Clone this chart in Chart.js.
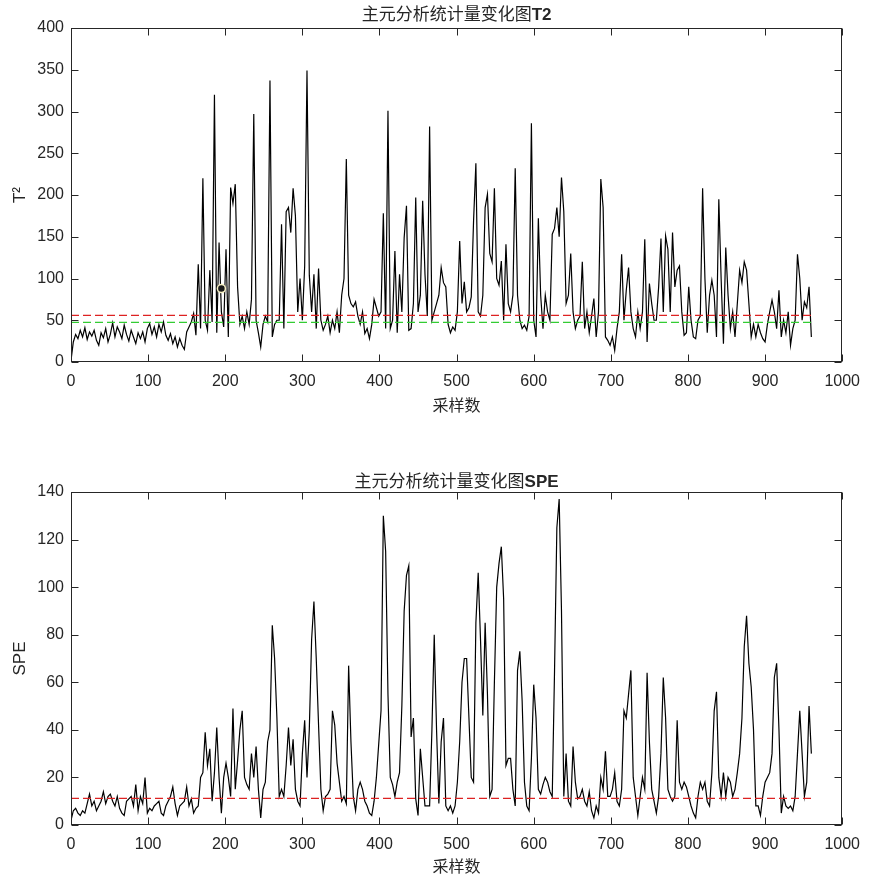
<!DOCTYPE html>
<html>
<head>
<meta charset="utf-8">
<script src="https://cdn.jsdelivr.net/npm/chart.js@4.4.1/dist/chart.umd.min.js"></script>
<style>
  html, body { margin: 0; padding: 0; background: #fff; }
  #wrap { position: relative; width: 870px; height: 880px; }
  .box { position: absolute; left: 0; width: 870px; height: 440px; }
</style>
</head>
<body>
<div id="wrap">
  <div class="box" style="top:0"><canvas id="t2Chart"></canvas></div>
  <div class="box" style="top:440px"><canvas id="speChart"></canvas></div>
</div>
<script>
// 采样间隔（每3个采样读一个值）
const SAMPLE_STEP = 3;

// T2 统计量
const t2Values = [
  2, 24, 33, 28, 38, 30, 41, 27, 36, 31,
  38, 26, 20, 35, 29, 40, 24, 33, 47, 30,
  42, 36, 28, 44, 33, 25, 38, 30, 22, 35,
  28, 36, 24, 40, 46, 33, 42, 30, 45, 36,
  48, 32, 26, 34, 22, 30, 18, 28, 20, 15,
  36, 42, 48, 58, 32, 117, 40, 220, 50, 38,
  110, 48, 320, 35, 143, 60, 42, 135, 30, 209,
  190, 213, 90, 45, 55, 40, 60, 45, 75, 297,
  50, 35, 18, 45, 55, 48, 337, 30, 45, 50,
  50, 165, 40, 180, 185, 155, 208, 175, 60, 100,
  50, 115, 349, 104, 60, 105, 40, 112, 50, 38,
  45, 55, 35, 50, 40, 60, 35, 80, 100, 243,
  80, 70, 66, 72, 55, 45, 60, 34, 40, 28,
  45, 75, 65, 55, 60, 178, 40, 301, 40, 50,
  133, 35, 105, 60, 149, 187, 38, 40, 70, 197,
  60, 80, 193, 105, 55, 282, 50, 60, 70, 80,
  113, 95, 90, 45, 35, 42, 38, 60, 145, 70,
  96, 60, 65, 78, 169, 238, 60, 55, 80, 185,
  201, 130, 120, 208, 100, 92, 121, 50, 141, 70,
  60, 80, 232, 80, 50, 40, 44, 38, 55, 286,
  50, 30, 172, 80, 40, 80, 60, 50, 153, 160,
  185, 150, 221, 180, 70, 80, 130, 60, 40, 50,
  55, 120, 40, 60, 35, 55, 76, 30, 60, 219,
  185, 30, 26, 20, 30, 14, 40, 60, 129, 50,
  86, 113, 60, 40, 30, 60, 40, 60, 147, 24,
  94, 70, 50, 50, 90, 148, 60, 151, 135, 60,
  155, 90, 110, 115, 60, 32, 35, 90, 50, 30,
  28, 50, 55, 208, 100, 35, 80, 98, 80, 30,
  195, 100, 22, 137, 80, 40, 60, 30, 70, 110,
  95, 120, 110, 70, 30, 45, 30, 45, 35, 28,
  24, 45, 60, 74, 60, 40, 86, 30, 50, 35,
  60, 20, 40, 50, 129, 100, 50, 72, 65, 90,
  30
];

// SPE 统计量
const speValues = [
  2, 6, 7, 5, 4, 6, 5, 9, 13, 8,
  10, 6, 8, 10, 14, 9, 12, 13, 10, 8,
  12, 7, 5, 4, 10, 11, 12, 8, 17, 6,
  12, 9, 20, 5, 7, 6, 8, 9, 10, 5,
  4, 8, 10, 12, 16, 9, 4, 8, 9, 10,
  16, 8, 11, 5, 7, 8, 20, 22, 39, 25,
  32, 10, 22, 41, 20, 5, 20, 26, 20, 12,
  49, 15, 27, 40, 48, 20, 17, 15, 30, 20,
  33, 15, 3, 15, 18, 35, 40, 84, 70, 45,
  12, 15, 12, 25, 41, 25, 36, 15, 10, 8,
  30, 44, 20, 40, 78, 94, 70, 42, 15, 6,
  12, 13, 15, 48, 42, 26, 18, 10, 12, 9,
  67, 35, 12, 6, 15, 18, 15, 10, 8, 5,
  4, 10, 20, 34, 48, 130, 115, 55, 20, 17,
  12, 18, 22, 50, 90, 105, 109, 37, 45, 11,
  4, 32, 20, 8, 8, 8, 40, 80, 40, 9,
  35, 45, 8, 6, 8, 5, 8, 18, 35, 60,
  70, 70, 45, 20, 18, 85, 106, 78, 46, 85,
  55, 12, 15, 60, 100, 110, 117, 95, 25, 28,
  28, 15, 8, 65, 73, 52, 18, 8, 6, 28,
  59, 45, 15, 13, 17, 20, 18, 14, 12, 65,
  125, 137, 90, 12, 30, 10, 8, 33, 18, 11,
  12, 15, 10, 8, 14, 6, 3, 8, 5, 20,
  15, 31, 12, 12, 15, 22, 10, 8, 15, 48,
  45, 55, 65, 20, 12, 4, 12, 20, 15, 64,
  35, 15, 10, 5, 12, 30, 62, 45, 15, 12,
  10, 12, 44, 18, 15, 18, 16, 12, 8, 5,
  3, 12, 18, 15, 18, 10, 8, 22, 48, 56,
  20, 12, 22, 12, 20, 18, 12, 15, 22, 30,
  45, 75, 88, 68, 58, 40, 8, 8, 4, 12,
  18, 20, 22, 30, 62, 68, 40, 5, 12, 8,
  7, 8, 6, 12, 30, 48, 30, 12, 18, 50,
  30
];

// 控制限
const limitSpan = [0, 960];
const t2LimitRed = 55.8;
const t2LimitGreen = 47.4;
const speLimitRed = 11.2;

// 标记点
const t2MarkX = [195];
const t2MarkY = [88];

// 刻度
const xTicks = [0, 100, 200, 300, 400, 500, 600, 700, 800, 900, 1000];
const t2Ticks = [0, 50, 100, 150, 200, 250, 300, 350, 400];
const speTicks = [0, 20, 40, 60, 80, 100, 120, 140];

const AXIS_COLOR = '#262626';
const toXY = vals => vals.map((v, i) => ({ x: i * SAMPLE_STEP, y: v }));
const hLine = v => limitSpan.map(x => ({ x: x, y: v }));

// 画 MATLAB 风格的边框、内向刻度和标题
const matlabAxes = {
  id: 'matlabAxes',
  afterDatasetsDraw(chart, args, opts) {
    const { ctx, chartArea: a, scales: { x, y } } = chart;
    const L = Math.round(a.left) + 0.5, R = Math.round(a.right) - 0.5;
    const T = Math.round(a.top) + 0.5, B = Math.round(a.bottom) - 0.5;
    ctx.save();
    ctx.strokeStyle = AXIS_COLOR;
    ctx.lineWidth = 1;
    ctx.beginPath();
    x.ticks.forEach(t => {
      const px = Math.round(x.getPixelForValue(t.value)) + 0.5;
      ctx.moveTo(px, B); ctx.lineTo(px, B - 7);
      ctx.moveTo(px, T); ctx.lineTo(px, T + 7);
    });
    y.ticks.forEach(t => {
      const py = Math.round(y.getPixelForValue(t.value)) + 0.5;
      ctx.moveTo(L, py); ctx.lineTo(L + 7, py);
      ctx.moveTo(R, py); ctx.lineTo(R - 7, py);
    });
    ctx.stroke();
    ctx.strokeRect(L, T, R - L, B - T);

    // 标题：中文常规体 + 英文粗体
    const cx = (a.left + a.right) / 2;
    const fMain = 'normal 17px "Noto Sans CJK SC"';
    const fTail = 'bold 17px "Liberation Sans"';
    ctx.fillStyle = AXIS_COLOR;
    ctx.textBaseline = 'middle';
    ctx.textAlign = 'left';
    ctx.font = fMain;
    const w1 = ctx.measureText(opts.titleMain).width;
    ctx.font = fTail;
    const w2 = ctx.measureText(opts.titleTail).width;
    const x0 = cx - (w1 + w2) / 2;
    ctx.font = fMain;
    ctx.fillText(opts.titleMain, x0, opts.titleY);
    ctx.font = fTail;
    ctx.fillText(opts.titleTail, x0 + w1, opts.titleY + 1);
    ctx.restore();
  }
};

function makeChart(el, cfg) {
  return new Chart(document.getElementById(el), {
    type: 'line',
    data: { datasets: cfg.datasets },
    options: {
      responsive: true,
      maintainAspectRatio: false,
      animation: false,
      layout: { padding: { top: cfg.padTop, right: 25, left: 0, bottom: 0 } },
      elements: { point: { radius: 0 }, line: { tension: 0 } },
      plugins: {
        legend: { display: false },
        tooltip: { enabled: false },
        matlabAxes: { titleMain: cfg.titleMain, titleTail: cfg.titleTail, titleY: cfg.titleY }
      },
      scales: {
        x: {
          type: 'linear', min: 0, max: 1000,
          afterBuildTicks: s => { s.ticks = xTicks.map(v => ({ value: v })); },
          afterFit: s => { s.height = cfg.xHeight; },
          grid: { display: false, drawTicks: false },
          border: { display: false },
          ticks: { padding: 10, color: AXIS_COLOR, font: { family: 'Liberation Sans', size: 16 }, callback: v => String(v), maxRotation: 0 },
          title: { display: true, text: '采样数', color: AXIS_COLOR, font: { family: 'Noto Sans CJK SC', size: 16 }, padding: { top: 0, bottom: cfg.xTitlePad } }
        },
        y: {
          type: 'linear', min: 0, max: cfg.yMax,
          afterBuildTicks: s => { s.ticks = cfg.yTicks.map(v => ({ value: v })); },
          afterFit: s => { s.width = 71; },
          grid: { display: false, drawTicks: false },
          border: { display: false },
          ticks: { padding: 7, color: AXIS_COLOR, font: { family: 'Liberation Sans', size: 16 }, callback: v => String(v) },
          title: { display: true, text: cfg.yTitle, color: AXIS_COLOR, font: { family: 'Liberation Sans', size: 17 }, padding: { top: 10, bottom: 0 } }
        }
      }
    },
    plugins: [matlabAxes]
  });
}

makeChart('t2Chart', {
  padTop: 28, xHeight: 78, xTitlePad: 25, yMax: 400, yTicks: t2Ticks, yTitle: 'T²',
  titleMain: '主元分析统计量变化图', titleTail: 'T2', titleY: 14,
  datasets: [
    { data: hLine(t2LimitRed), borderColor: '#dd2222', borderWidth: 1.2, borderDash: [8, 4], order: 1 },
    { data: hLine(t2LimitGreen), borderColor: '#33cc33', borderWidth: 1.2, borderDash: [8, 4], order: 1 },
    { type: 'scatter', data: t2MarkX.map((x, i) => ({ x: x, y: t2MarkY[i] })), pointRadius: 4, backgroundColor: '#1a1a1a', borderColor: '#f6f0c4', borderWidth: 1.5, order: 0 },
    { data: toXY(t2Values), borderColor: '#000', borderWidth: 1.2, order: 3 }
  ]
});

makeChart('speChart', {
  padTop: 52, xHeight: 55, xTitlePad: 4, yMax: 140, yTicks: speTicks, yTitle: 'SPE',
  titleMain: '主元分析统计量变化图', titleTail: 'SPE', titleY: 41,
  datasets: [
    { data: hLine(speLimitRed), borderColor: '#dd2222', borderWidth: 1.2, borderDash: [8, 4], order: 1 },
    { data: toXY(speValues), borderColor: '#000', borderWidth: 1.2, order: 3 }
  ]
});
</script>
</body>
</html>
